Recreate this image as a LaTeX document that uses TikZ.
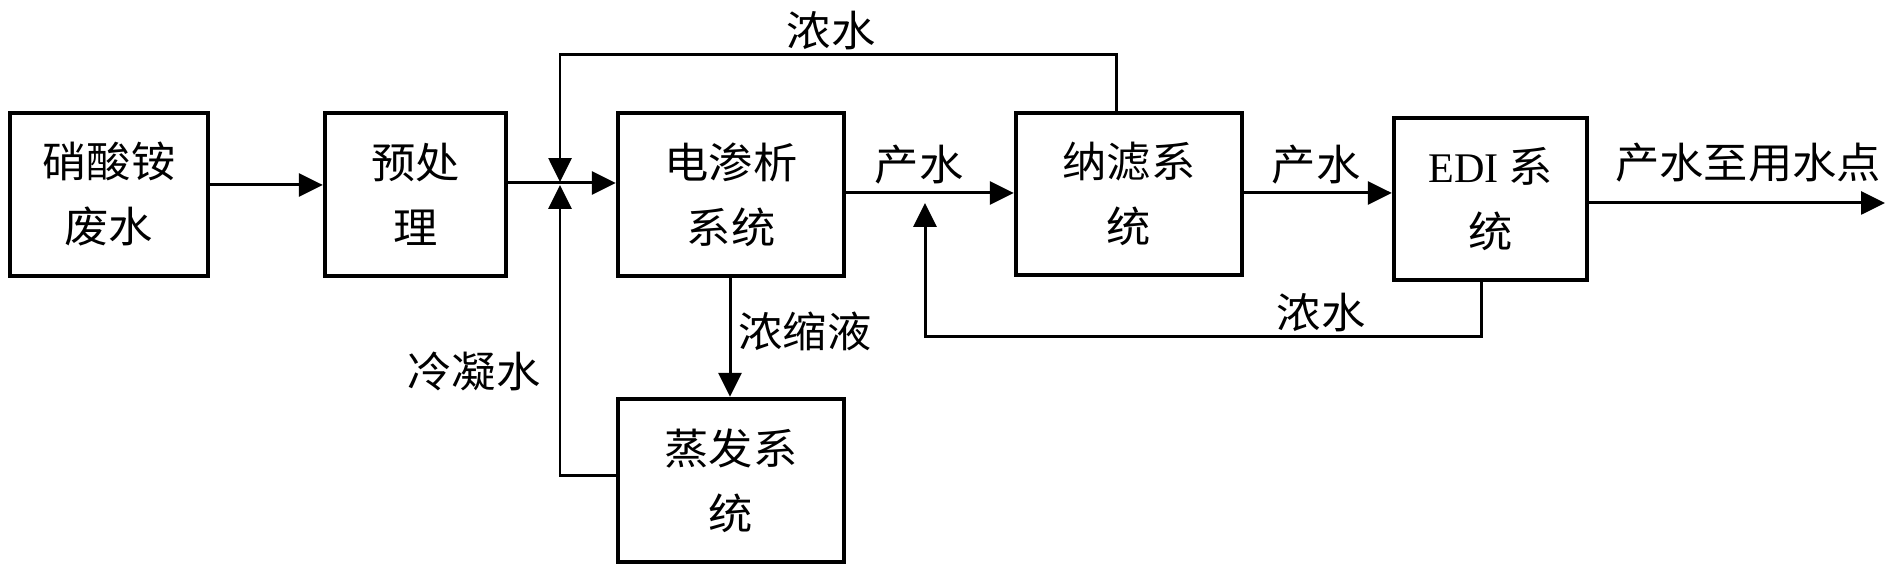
\documentclass[tikz,border=0pt]{standalone}
\usepackage{fontspec}
\setmainfont{Liberation Serif}
\newfontfamily\cjk[FakeStretch=1.05]{Noto Sans CJK SC}
\usetikzlibrary{arrows.meta}
\tikzset{
  box/.style={draw, line width=1.2pt, inner sep=0pt, align=center,
    font=\cjk\fontsize{12}{18.5}\selectfont},
  flow/.style={line width=0.85pt, -{Triangle[length=6.8pt,width=6.5pt]}},
  lab/.style={inner sep=0pt, font=\cjk\fontsize{12}{14}\selectfont}
}

\begin{document}
\begin{tikzpicture}[x=0.01cm, y=-0.01cm]
  \useasboundingbox (0,0) rectangle (1896,568);

  \node[box, minimum width=1.98cm, minimum height=1.63cm] (A) at (109,194.5)  {硝酸铵\\废水};
  \node[box, minimum width=1.81cm, minimum height=1.63cm] (B) at (415.5,194.5) {预处\\理};
  \node[box, minimum width=2.26cm, minimum height=1.63cm] (C) at (731,194.5)  {电渗析\\系统};
  \node[box, minimum width=2.26cm, minimum height=1.63cm] (D) at (731,480.5)  {蒸发系\\统};
  \node[box, minimum width=2.26cm, minimum height=1.62cm] (E) at (1129,194)   {纳滤系\\统};
  \node[box, minimum width=1.93cm, minimum height=1.62cm] (F) at (1490.5,199) {{\rmfamily EDI} 系\\统};

  \coordinate (J1)  at (560,182);
  \coordinate (J2)  at (560,185);
  \coordinate (K)   at (925,203);
  \coordinate (Out) at (1885,203);

  \node[lab] (L1) at (831,31)   {浓水};
  \node[lab] (L2) at (919,165)  {产水};
  \node[lab] (L3) at (1316,165) {产水};
  \node[lab] (L4) at (1748,163) {产水至用水点};
  \node[lab] (L5) at (1321,313) {浓水};
  \node[lab] (L6) at (805,331)  {浓缩液};
  \node[lab] (L7) at (474,371)  {冷凝水};

  \draw[flow] (A.east |- 0,185) -- (B.west |- 0,185);
  \draw[flow] (B.east |- 0,183) -- (C.west |- 0,183);
  \draw[flow] (1116,0 |- E.north) -- (1116,55) -- (560,55) -- (J1);
  \draw[flow] (D.west |- 0,476) -- (560,476) -- (J2);
  \draw[flow] (730,0 |- C.south) -- (730,0 |- D.north);
  \draw[flow] (C.east |- 0,193) -- (E.west |- 0,193);
  \draw[flow] (E.east |- 0,193) -- (F.west |- 0,193);
  \draw[flow] (F.east |- 0,203) -- (Out);
  \draw[flow] (1481,0 |- F.south) -- (1481,337) -- (925,337) -- (K);
\end{tikzpicture}
\end{document}
